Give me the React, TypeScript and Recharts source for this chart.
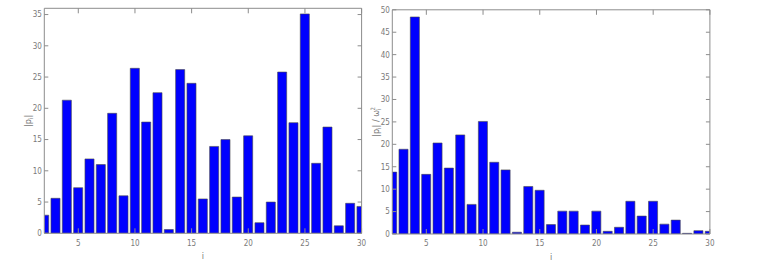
import React from "react";
import { BarChart, Bar, XAxis, YAxis, Label } from "recharts";

const indices = [2, 3, 4, 5, 6, 7, 8, 9, 10, 11, 12, 13, 14, 15, 16, 17, 18, 19, 20, 21, 22, 23, 24, 25, 26, 27, 28, 29, 30];
const pAbs = [2.9, 5.6, 21.3, 7.3, 11.9, 11.0, 19.2, 6.0, 26.4, 17.8, 22.5, 0.6, 26.2, 24.0, 5.5, 13.9, 15.0, 5.8, 15.6, 1.7, 5.0, 25.8, 17.7, 35.1, 11.2, 17.0, 1.2, 4.8, 4.3];
const pOverOmega = [13.8, 18.9, 48.4, 13.3, 20.3, 14.7, 22.1, 6.6, 25.1, 16.0, 14.3, 0.4, 10.6, 9.75, 2.1, 5.1, 5.1, 2.0, 5.1, 0.6, 1.5, 7.3, 4.0, 7.3, 2.2, 3.1, 0.15, 0.75, 0.6];
const xTicks = [5, 10, 15, 20, 25, 30];
const leftYTicks = [0, 5, 10, 15, 20, 25, 30, 35];
const rightYTicks = [0, 5, 10, 15, 20, 25, 30, 35, 40, 45, 50];

const leftData = indices.map((i, k) => ({ i, v: pAbs[k] }));
const rightData = indices.map((i, k) => ({ i, v: pOverOmega[k] }));

const AXIS = "#8c8c8c";
const TICKTXT = "#7a7a7a";
const FONT = "'Liberation Sans Narrow', 'DejaVu Sans Condensed', 'Liberation Sans', sans-serif";

const BottomTick = (props: any) => {
  const { x, y, payload } = props;
  return (
    <g>
      <line x1={x} y1={y} x2={x} y2={y - 5} stroke={AXIS} strokeWidth={1} />
      <text x={x} y={y + 12.3} textAnchor="middle" fontSize={8} fill={TICKTXT} fontFamily={FONT}>
        {payload.value}
      </text>
    </g>
  );
};
const TopTick = (props: any) => {
  const { x, y } = props;
  return <line x1={x} y1={y} x2={x} y2={y + 5} stroke={AXIS} strokeWidth={1} />;
};
const LeftTick = (props: any) => {
  const { x, y, payload } = props;
  return (
    <g>
      <line x1={x} y1={y} x2={x + 4} y2={y} stroke={AXIS} strokeWidth={1} />
      <text x={x - 2.5} y={y + 2.9} textAnchor="end" fontSize={8} fill={TICKTXT} fontFamily={FONT}>
        {payload.value}
      </text>
    </g>
  );
};
const RightTick = (props: any) => {
  const { x, y } = props;
  return <line x1={x} y1={y} x2={x - 4} y2={y} stroke={AXIS} strokeWidth={1} />;
};

const XLabel = (props: any) => {
  const vb = props.viewBox;
  const cx = vb.x + vb.width / 2;
  return (
    <text x={cx} y={vb.y + 26} textAnchor="middle" fontSize={9} fill={TICKTXT} fontFamily={FONT}>
      i
    </text>
  );
};

const makeYLabel = (kind: "left" | "right", offsetX: number, plotTop: number, plotBottom: number) => (props: any) => {
  const vb = props.viewBox;
  const cx = vb.x + offsetX;
  const cy = (plotTop + plotBottom) / 2;
  return (
    <text
      x={cx}
      y={cy}
      transform={`rotate(-90 ${cx} ${cy})`}
      textAnchor="middle"
      fontSize={9}
      fill={TICKTXT}
      fontFamily={FONT}
      dy={3}
    >
      {kind === "left" ? (
        <>
          <tspan>|p</tspan>
          <tspan fontSize={6} dy={2}>i</tspan>
          <tspan dy={-2}>|</tspan>
        </>
      ) : (
        <>
          <tspan>|p</tspan>
          <tspan fontSize={6} dy={2}>i</tspan>
          <tspan dy={-2}>|  /  ω</tspan>
          <tspan fontSize={6} dy={2}>i</tspan>
          <tspan fontSize={6} dy={-6} dx={-2}>2</tspan>
        </>
      )}
    </text>
  );
};

type PanelProps = {
  data: { i: number; v: number }[];
  left: number;
  width: number;
  margin: { top: number; right: number; left: number; bottom: number };
  xHeight: number;
  yMax: number;
  yTicks: number[];
  yLabel: any;
};

const Panel = ({ data, left, width, margin, xHeight, yMax, yTicks, yLabel }: PanelProps) => (
  <div style={{ position: "absolute", left, top: 0, width, height: 273 }}>
    <BarChart width={width} height={273} data={data} margin={margin} barGap={0} barCategoryGap={0}>
      <XAxis
        dataKey="i"
        type="number"
        domain={[2, 30]}
        allowDataOverflow
        ticks={xTicks}
        interval={0}
        height={xHeight}
        tickSize={0}
        tickMargin={0}
        tickLine={false}
        axisLine={{ stroke: AXIS }}
        tick={<BottomTick />}
      >
        <Label content={<XLabel />} />
      </XAxis>
      <XAxis
        xAxisId="top"
        orientation="top"
        dataKey="i"
        type="number"
        domain={[2, 30]}
        allowDataOverflow
        ticks={xTicks}
        interval={0}
        height={1}
        tickSize={0}
        tickMargin={0}
        tickLine={false}
        axisLine={{ stroke: AXIS }}
        tick={<TopTick />}
      />
      <YAxis
        type="number"
        domain={[0, yMax]}
        allowDataOverflow
        ticks={yTicks}
        interval={0}
        width={30}
        tickSize={0}
        tickMargin={0}
        tickLine={false}
        axisLine={{ stroke: AXIS }}
        tick={<LeftTick />}
      >
        <Label content={yLabel} />
      </YAxis>
      <YAxis
        yAxisId="right"
        orientation="right"
        type="number"
        domain={[0, yMax]}
        allowDataOverflow
        ticks={yTicks}
        interval={0}
        width={1}
        tickSize={0}
        tickMargin={0}
        tickLine={false}
        axisLine={{ stroke: AXIS }}
        tick={<RightTick />}
      />
      <Bar dataKey="v" fill="#0000ff" stroke="#4a4a4a" strokeWidth={0.6} barSize={9.07} isAnimationActive={false} />
    </BarChart>
  </div>
);

export default function App() {
  return (
    <div style={{ position: "absolute", left: 0, top: 0, width: 763, height: 273, background: "#fff", overflow: "hidden" }}>
      <Panel
        data={leftData}
        left={0}
        width={380}
        margin={{ top: 7.3, right: 17.4, left: 14.3, bottom: 0 }}
        xHeight={39.7}
        yMax={36}
        yTicks={leftYTicks}
        yLabel={makeYLabel("left", 14, 8.3, 233.3)}
      />
      <Panel
        data={rightData}
        left={350}
        width={413}
        margin={{ top: 8.8, right: 52.1, left: 12.3, bottom: 0 }}
        xHeight={39}
        yMax={50}
        yTicks={rightYTicks}
        yLabel={makeYLabel("right", 13.7, 9.8, 234)}
      />
    </div>
  );
}
